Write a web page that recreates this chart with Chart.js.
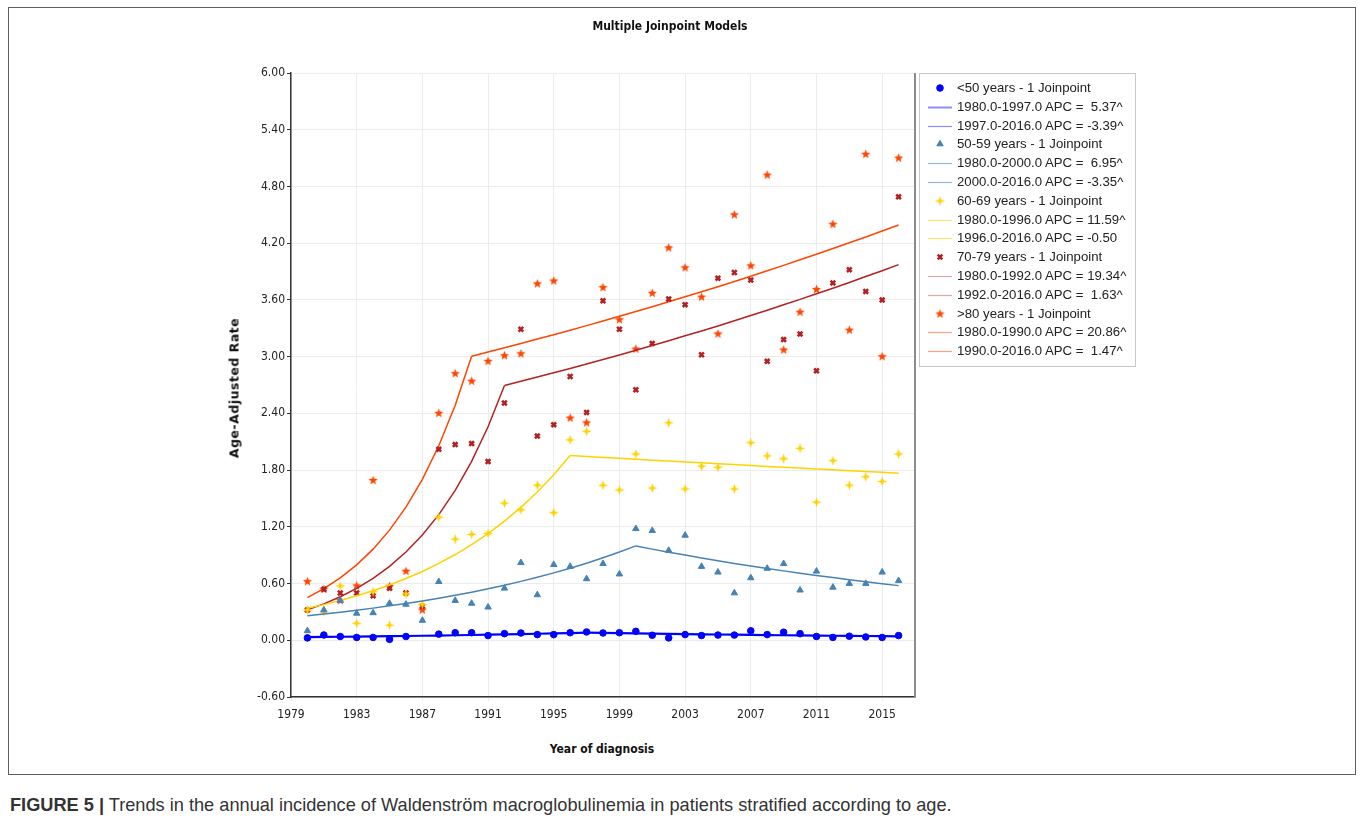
<!DOCTYPE html>
<html>
<head>
<meta charset="utf-8">
<script src="https://cdn.jsdelivr.net/npm/chart.js@4.4.1/dist/chart.umd.min.js"></script>
<style>
  body { margin: 0; background: #fff; width: 1363px; height: 829px; overflow: hidden; position: relative; font-family: 'Liberation Sans', Arial, sans-serif; }
  #frame { position: absolute; left: 8px; top: 7px; width: 1348px; height: 768px; border: 1.5px solid #5e5e5e; box-sizing: border-box; }
  #cogs { position: absolute; left: 0; top: 0; }
  .title { position: absolute; left: 0; width: 1340px; top: 19px; text-align: center; font: bold 12px 'DejaVu Sans Condensed', 'DejaVu Sans', sans-serif; color: #111; }
  .xtitle { position: absolute; left: 402px; width: 400px; top: 742px; text-align: center; font: bold 12px 'DejaVu Sans Condensed', 'DejaVu Sans', sans-serif; color: #111; }
  .ytitle { position: absolute; left: 234px; top: 388px; transform: translate(-50%, -50%) rotate(-90deg); white-space: nowrap; font: bold 12.5px 'DejaVu Sans', sans-serif; letter-spacing: 0.5px; color: #111; }
  #legend { position: absolute; left: 919px; top: 73px; width: 217px; height: 294px; border: 1px solid #c8c8c8; box-sizing: border-box; }
  .row { position: absolute; left: 0; height: 18px; width: 215px; }
  .row canvas { position: absolute; left: 8px; top: 0; }
  .row span { position: absolute; left: 37px; top: 0; line-height: 18px; font-size: 13.2px; color: #222; white-space: pre; }
  .caption { position: absolute; left: 10px; top: 795px; font-size: 18.2px; color: #333; white-space: nowrap; }
</style>
</head>
<body>
<div id="frame"></div>
<canvas id="cogs" width="1363" height="740"></canvas>
<div class="title">Multiple Joinpoint Models</div>
<div class="xtitle">Year of diagnosis</div>
<div class="ytitle">Age-Adjusted Rate</div>
<div id="legend"></div>
<div class="caption"><b>FIGURE 5 |</b> Trends in the annual incidence of Waldenström macroglobulinemia in patients stratified according to age.</div>
<script>
// observed age-adjusted rates, 1980-2016
const years = [1980, 1981, 1982, 1983, 1984, 1985, 1986, 1987, 1988, 1989, 1990, 1991, 1992, 1993, 1994, 1995, 1996, 1997, 1998,
               1999, 2000, 2001, 2002, 2003, 2004, 2005, 2006, 2007, 2008, 2009, 2010, 2011, 2012, 2013, 2014, 2015, 2016];

const under50 = [0.025, 0.056, 0.04, 0.03, 0.03, 0.01, 0.04, null, 0.065, 0.08, 0.08, 0.05, 0.07, 0.077, 0.06, 0.06, 0.08, 0.088, 0.077,
                 0.08, 0.095, 0.053, 0.025, 0.06, 0.05, 0.055, 0.055, 0.10, 0.06, 0.085, 0.07, 0.04, 0.03, 0.043, 0.035, 0.03, 0.05];
const age50 = [0.10, 0.32, 0.42, 0.285, 0.29, 0.39, 0.38, 0.21, 0.62, 0.42, 0.39, 0.35, 0.55, 0.82, 0.48, 0.80, 0.78, 0.65, 0.81,
               0.70, 1.18, 1.16, 0.95, 1.11, 0.78, 0.72, 0.50, 0.66, 0.76, 0.81, 0.53, 0.73, 0.56, 0.60, 0.60, 0.72, 0.63];
const age60 = [0.32, 0.30, 0.575, 0.18, 0.515, 0.16, 0.49, 0.38, 1.30, 1.07, 1.12, 1.13, 1.45, 1.38, 1.64, 1.35, 2.12, 2.21, 1.64,
               1.59, 1.97, 1.61, 2.30, 1.60, 1.84, 1.83, 1.60, 2.09, 1.95, 1.92, 2.03, 1.46, 1.90, 1.64, 1.73, 1.68, 1.97];
const age70 = [0.32, 0.54, 0.50, 0.50, 0.47, 0.55, 0.50, 0.36, 2.02, 2.07, 2.08, 1.89, 2.51, 3.29, 2.16, 2.28, 2.79, 2.41, 3.59,
               3.29, 2.65, 3.14, 3.61, 3.55, 3.02, 3.83, 3.89, 3.81, 2.95, 3.18, 3.24, 2.85, 3.78, 3.92, 3.69, 3.60, 4.69];
const age80 = [0.62, 0.54, 0.42, 0.575, 1.69, 0.57, 0.73, 0.32, 2.40, 2.82, 2.74, 2.95, 3.01, 3.03, 3.77, 3.80, 2.35, 2.30, 3.73,
               3.39, 3.08, 3.67, 4.15, 3.94, 3.63, 3.24, 4.50, 3.96, 4.92, 3.07, 3.47, 3.71, 4.40, 3.28, 5.14, 3.00, 5.10];

// modelled (joinpoint) values
const fitUnder50 = [0.033, 0.035, 0.037, 0.039, 0.041, 0.043, 0.045, 0.048, 0.050, 0.053, 0.056, 0.059, 0.062, 0.065, 0.069, 0.072, 0.076, 0.080,
                    0.078, 0.075, 0.072, 0.070, 0.068, 0.065, 0.063, 0.061, 0.059, 0.057, 0.055, 0.053, 0.051, 0.050, 0.048, 0.046, 0.045, 0.043, 0.042];
const fit50 = [0.260, 0.278, 0.297, 0.318, 0.340, 0.364, 0.389, 0.416, 0.445, 0.476, 0.509, 0.545, 0.583, 0.623, 0.667, 0.713, 0.762, 0.815, 0.872, 0.933, 0.998,
               0.964, 0.932, 0.901, 0.871, 0.841, 0.813, 0.786, 0.760, 0.734, 0.710, 0.686, 0.663, 0.641, 0.619, 0.598, 0.578];
const fit60 = [0.338, 0.377, 0.421, 0.470, 0.524, 0.585, 0.653, 0.728, 0.813, 0.907, 1.012, 1.129, 1.260, 1.406, 1.569, 1.751, 1.954,
               1.944, 1.934, 1.925, 1.915, 1.905, 1.896, 1.886, 1.877, 1.867, 1.858, 1.849, 1.839, 1.830, 1.821, 1.812, 1.803, 1.794, 1.785, 1.776, 1.767];
const fit70 = [0.323, 0.385, 0.460, 0.549, 0.655, 0.782, 0.933, 1.113, 1.329, 1.586, 1.892, 2.258, 2.695,
               2.739, 2.784, 2.829, 2.875, 2.922, 2.969, 3.018, 3.067, 3.117, 3.168, 3.220, 3.272, 3.325, 3.380, 3.435, 3.491, 3.548, 3.606, 3.665, 3.724, 3.785, 3.847, 3.909, 3.973];
const fit80 = [0.452, 0.546, 0.660, 0.798, 0.964, 1.165, 1.408, 1.702, 2.057, 2.486, 3.005,
               3.049, 3.094, 3.139, 3.186, 3.232, 3.280, 3.328, 3.377, 3.427, 3.477, 3.528, 3.580, 3.633, 3.686, 3.740, 3.795, 3.851, 3.908, 3.965, 4.024, 4.083, 4.143, 4.204, 4.266, 4.328, 4.392];

const joinYears = [1997, 2000, 1996, 1992, 1990];

const groupLabels = ['<50 years - 1 Joinpoint', '50-59 years - 1 Joinpoint', '60-69 years - 1 Joinpoint', '70-79 years - 1 Joinpoint', '>80 years - 1 Joinpoint'];
const segmentLabels = [
    ['1980.0-1997.0 APC =  5.37^', '1997.0-2016.0 APC = -3.39^'],
    ['1980.0-2000.0 APC =  6.95^', '2000.0-2016.0 APC = -3.35^'],
    ['1980.0-1996.0 APC = 11.59^', '1996.0-2016.0 APC = -0.50'],
    ['1980.0-1992.0 APC = 19.34^', '1992.0-2016.0 APC =  1.63^'],
    ['1980.0-1990.0 APC = 20.86^', '1990.0-2016.0 APC =  1.47^'],
];

const yearTicks = [1979, 1983, 1987, 1991, 1995, 1999, 2003, 2007, 2011, 2015];
const rateTicks = [-0.6, 0, 0.6, 1.2, 1.8, 2.4, 3.0, 3.6, 4.2, 4.8, 5.4, 6.0];

const observed = [under50, age50, age60, age70, age80];
const fitted = [fitUnder50, fit50, fit60, fit70, fit80];
const colors = ['#0000ff', '#4682b4', '#ffd200', '#b22222', '#ff4500'];
const legendLineColors = ['rgba(0,0,255,0.45)', 'rgba(70,130,180,0.55)', 'rgba(255,210,0,0.55)', 'rgba(178,34,34,0.4)', 'rgba(255,69,0,0.5)'];

function starMarker(points, outer, inner, color) {
    const size = 11;
    const c = document.createElement('canvas');
    c.width = size; c.height = size;
    const g = c.getContext('2d');
    g.fillStyle = color;
    g.beginPath();
    for (let i = 0; i < points * 2; i++) {
        const r = i % 2 ? inner : outer;
        const a = -Math.PI / 2 + i * Math.PI / points;
        const px = size / 2 + r * Math.cos(a), py = size / 2 + r * Math.sin(a);
        if (i === 0) g.moveTo(px, py); else g.lineTo(px, py);
    }
    g.closePath();
    g.fill();
    return c;
}

const markers = ['circle', 'triangle', starMarker(4, 5, 1.8, colors[2]), 'crossRot', starMarker(5, 4.8, 2.1, colors[4])];
const markerRadius = [3.3, 3.7, 4, 3.3, 4];
const markerBorder = [1, 1, 1, 2.6, 1];

const datasets = [];
observed.forEach((vals, g) => {
    datasets.push({
        type: 'scatter',
        label: groupLabels[g],
        data: years.map((yr, i) => ({ x: yr, y: vals[i] })).filter(p => p.y !== null),
        pointStyle: markers[g],
        pointRadius: markerRadius[g],
        backgroundColor: colors[g],
        borderColor: colors[g],
        borderWidth: markerBorder[g],
    });
    const cut = years.indexOf(joinYears[g]);
    const pts = years.map((yr, i) => ({ x: yr, y: fitted[g][i] }));
    [pts.slice(0, cut + 1), pts.slice(cut)].forEach((seg, s) => {
        datasets.push({
            type: 'scatter',
            label: segmentLabels[g][s],
            data: seg,
            showLine: true,
            pointRadius: 0,
            borderColor: colors[g],
            borderWidth: g === 0 ? 2.2 : 1.5,
            fill: false,
        });
    });
});

const tickFont = { family: "'DejaVu Sans Condensed', 'DejaVu Sans', sans-serif", size: 12 };

// right-hand frame line of the plot area
const plotFrame = {
    id: 'plotFrame',
    afterDraw(chart) {
        const { ctx, chartArea: a } = chart;
        ctx.save();
        ctx.strokeStyle = '#8c8c8c';
        ctx.lineWidth = 2;
        ctx.beginPath();
        ctx.moveTo(a.right, a.top);
        ctx.lineTo(a.right, a.bottom);
        ctx.stroke();
        ctx.restore();
    }
};

new Chart(document.getElementById('cogs'), {
    type: 'scatter',
    data: { datasets },
    options: {
        responsive: false,
        animation: false,
        layout: { padding: { left: 0, top: 73, right: 448, bottom: 0 } },
        plugins: { legend: { display: false }, tooltip: { enabled: false } },
        scales: {
            x: {
                type: 'linear', min: 1979, max: 2017,
                afterBuildTicks: s => { s.ticks = yearTicks.map(v => ({ value: v })); },
                afterFit: s => { s.height = 43; },
                ticks: { callback: v => String(v), font: tickFont, color: '#222', maxRotation: 0, autoSkip: false, padding: 7 },
                grid: { color: '#ececec', tickLength: 4, tickColor: '#ececec' },
                border: { color: '#333', width: 1.5 },
            },
            y: {
                min: -0.6, max: 6,
                afterBuildTicks: s => { s.ticks = rateTicks.map(v => ({ value: v })); },
                afterFit: s => { s.width = 291; },
                ticks: { callback: v => v.toFixed(2), font: tickFont, color: '#222', padding: 2 },
                grid: { color: '#ececec', tickLength: 4, tickColor: '#333' },
                border: { color: '#333', width: 1.5 },
            }
        }
    },
    plugins: [plotFrame]
});

// legend box, one row per dataset
const legend = document.getElementById('legend');
datasets.forEach((ds, i) => {
    const g = Math.floor(i / 3);
    const row = document.createElement('div');
    row.className = 'row';
    row.style.top = (5 + i * 18.8) + 'px';
    const c = document.createElement('canvas');
    c.width = 24; c.height = 18;
    const ctx = c.getContext('2d');
    if (i % 3 === 0) {
        ctx.fillStyle = colors[g];
        ctx.strokeStyle = colors[g];
        ctx.lineWidth = markerBorder[g];
        Chart.helpers.drawPoint(ctx, { pointStyle: markers[g], radius: markerRadius[g], rotation: 0, borderWidth: markerBorder[g] }, 12, 9);
    } else {
        ctx.strokeStyle = legendLineColors[g];
        ctx.lineWidth = (i === 1) ? 2 : 1.2;
        ctx.beginPath();
        ctx.moveTo(0, 9.5);
        ctx.lineTo(24, 9.5);
        ctx.stroke();
    }
    const span = document.createElement('span');
    span.textContent = ds.label;
    row.appendChild(c);
    row.appendChild(span);
    legend.appendChild(row);
});
</script>
</body>
</html>
